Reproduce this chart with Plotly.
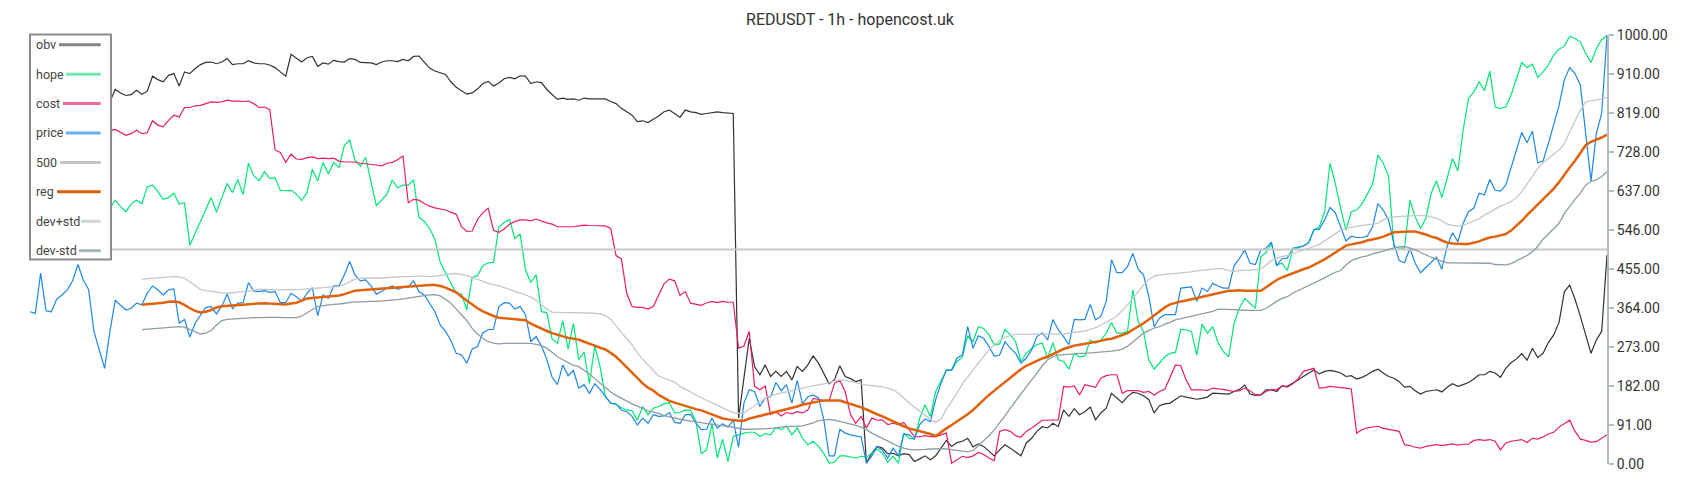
import plotly.graph_objects as go

CHART_TITLE = "REDUSDT - 1h - hopencost.uk"
SERIES_NAMES = ["obv", "hope", "cost", "price", "500", "reg", "dev+std", "dev-std"]

obv = [840, 835, 850, 845, 860, 855, 865, 850, 858, 862, 855, 848, 852, 845, 838,
       844, 873, 865, 859, 861, 871, 862, 869, 904, 896, 891, 906, 910, 881, 914, 910, 922, 931, 936, 937, 933, 937, 945, 931, 933, 933, 940, 935, 933, 933, 930, 924, 914, 904, 955, 947, 937, 947, 950, 927, 935, 932, 941,
       938, 937, 945, 943, 936, 935, 935, 931, 937, 940, 940, 938, 943, 940, 950, 951, 937, 923, 916, 912, 908, 891, 878, 870, 862, 865, 874, 887, 892, 881, 888, 898, 901, 898, 905, 904, 887, 891, 889, 873, 861, 850, 853, 850, 851, 848, 853, 851, 851, 851, 851, 845, 840, 829, 821, 813, 798, 800, 796, 803, 811,
       821, 825, 817, 808, 825, 821, 819, 815, 817, 819, 821, 819, 818, 817, 107, 204, 293, 227, 208, 231, 204, 216, 204, 216, 196, 227, 216, 231, 252, 235, 212, 187, 196, 229, 204, 199, 192, 196, 2, 25, 41, 37, 24, 25, 19, 24, 22, 6, 12, 19, 10, 19, 37, 55, 41, 50, 53, 60, 40,
       47, 41, 29, 19, 33, 45, 37, 29, 19, 49, 60, 76, 87, 84, 95, 87, 126, 111, 129, 115, 122, 133, 103, 119, 130, 165, 153, 143, 157, 167, 165, 159, 150, 119, 136, 140, 142, 151, 159, 156, 153, 151, 153, 156, 165, 164, 164, 163, 169, 174, 184, 163, 160, 161, 173, 173, 169, 182,
       181, 188, 196, 204, 212, 219, 210, 216, 218, 216, 212, 204, 206, 198, 202, 208, 216, 221, 212, 204, 200, 192, 179, 181, 171, 163, 169, 171, 173, 168, 179, 187, 181, 185, 190, 198, 208, 208, 216, 212, 202, 223, 236, 245, 257, 242, 270, 248, 258, 283, 301, 330, 402, 417, 384, 344, 301, 258, 289, 309, 487]

hope = [600, 610, 595, 620, 640, 625, 605, 590, 615, 630, 645, 620, 600, 585, 590,
        596, 615, 600, 588, 607, 615, 607, 646, 650, 635, 617, 621, 631, 606, 609, 510, 538, 565, 594, 621, 587, 619, 654, 633, 663, 628, 701, 672, 660, 681, 666, 667, 638, 637, 638, 629, 614, 633, 687, 660, 703, 676, 703, 691,
        743, 755, 708, 694, 715, 658, 602, 615, 629, 662, 644, 650, 650, 662, 575, 566, 549, 524, 470, 445, 421, 398, 396, 359, 435, 439, 462, 469, 470, 552, 563, 570, 526, 536, 452, 423, 441, 355, 353, 291, 282, 334, 268, 328, 243, 261, 188, 275, 227, 157, 142, 139, 131, 126, 124, 102, 134, 115, 130, 134,
        140, 143, 119, 120, 126, 125, 99, 24, 33, 94, 14, 58, 6, 64, 68, 72, 74, 74, 64, 71, 68, 85, 80, 89, 68, 84, 60, 45, 53, 41, 25, 2, 4, 19, 19, 16, 14, 18, 16, 25, 35, 25, 4, 18, 2, 72, 60, 58, 107, 138, 111, 169, 196, 219, 219, 239, 249, 299, 285,
        320, 316, 301, 278, 280, 314, 301, 285, 239, 258, 270, 278, 282, 247, 283, 243, 239, 221, 258, 250, 252, 289, 282, 289, 305, 330, 305, 305, 309, 406, 332, 309, 243, 221, 235, 250, 258, 260, 314, 313, 309, 254, 326, 305, 320, 282, 262, 250, 328, 363, 386, 375, 363, 483, 493, 514, 464, 468,
        451, 499, 503, 508, 516, 545, 553, 588, 701, 654, 596, 545, 588, 592, 606, 629, 652, 720, 701, 671, 507, 503, 503, 615, 576, 549, 573, 631, 660, 621, 670, 712, 683, 778, 852, 867, 891, 870, 916, 832, 829, 832, 860, 898, 936, 924, 932, 901, 914, 930, 953, 967, 974, 997, 992, 984, 957, 936, 968, 989, 998]

cost = [760, 770, 765, 775, 768, 772, 780, 776, 770, 765, 772, 778, 774, 770, 772,
        777, 780, 772, 766, 770, 778, 770, 772, 800, 790, 786, 801, 813, 809, 831, 831, 835, 836, 840, 844, 843, 844, 848, 846, 846, 845, 846, 840, 831, 832, 826, 732, 726, 703, 722, 711, 710, 714, 716, 712, 713, 712, 713,
        706, 704, 704, 704, 701, 700, 698, 697, 695, 701, 703, 709, 718, 609, 617, 615, 607, 601, 597, 594, 592, 587, 582, 553, 542, 543, 570, 586, 596, 545, 540, 548, 559, 565, 569, 569, 567, 571, 566, 562, 559, 553, 553, 553, 553, 555, 557, 556, 556, 556, 555, 549, 486, 478, 398, 367, 365, 365, 361, 367, 394,
        420, 431, 427, 393, 402, 375, 373, 370, 376, 379, 376, 379, 377, 377, 270, 275, 309, 181, 173, 182, 115, 122, 112, 120, 117, 122, 119, 126, 153, 151, 148, 148, 188, 195, 169, 115, 95, 111, 84, 107, 102, 103, 92, 95, 92, 97, 80, 64, 63, 66, 64, 64, 68, 72, 2, 10, 18, 15, 19,
        27, 22, 14, 8, 76, 80, 76, 66, 63, 76, 84, 92, 102, 102, 102, 103, 181, 179, 182, 161, 185, 182, 179, 200, 206, 208, 208, 165, 171, 171, 171, 167, 169, 161, 169, 174, 204, 231, 229, 196, 173, 173, 173, 171, 177, 175, 174, 171, 169, 171, 177, 171, 161, 161, 169, 174, 173, 182,
        179, 187, 198, 216, 219, 223, 177, 178, 181, 179, 178, 177, 175, 72, 80, 84, 86, 88, 83, 81, 78, 76, 45, 43, 39, 37, 41, 43, 45, 43, 45, 47, 44, 46, 46, 55, 57, 55, 57, 53, 33, 49, 53, 55, 57, 50, 60, 58, 63, 70, 74, 86, 95, 102, 76, 58, 55, 51, 52, 60, 68]

price = [355, 351, 445, 357, 355, 384, 394, 406, 427, 465, 429, 407, 309, 266, 223, 309, 382, 370, 359, 363, 375, 371,
         398, 415, 406, 394, 406, 408, 328, 337, 296, 328, 347, 365, 367, 350, 368, 396, 362, 375, 376, 423, 403, 402, 404, 400, 402, 376, 376, 398, 390, 379, 398, 411, 346, 394, 386, 415,
         415, 441, 472, 441, 427, 429, 415, 396, 402, 410, 415, 407, 412, 413, 427, 402, 394, 376, 355, 324, 309, 288, 258, 254, 235, 268, 274, 306, 313, 314, 367, 376, 375, 361, 367, 348, 285, 297, 275, 244, 202, 185, 231, 206, 218, 177, 185, 165, 187, 174, 157, 142, 140, 126, 122, 111, 91, 107, 95, 115, 111,
         112, 120, 97, 95, 115, 115, 95, 80, 81, 107, 84, 94, 86, 102, 39, 142, 173, 169, 134, 154, 157, 190, 171, 185, 142, 195, 140, 157, 161, 154, 103, 19, 19, 81, 72, 68, 66, 63, 2, 18, 41, 32, 14, 37, 19, 70, 68, 58, 92, 105, 99, 150, 188, 219, 219, 247, 254, 320, 270,
         299, 293, 274, 251, 254, 285, 270, 258, 235, 247, 266, 297, 306, 289, 337, 313, 297, 278, 337, 336, 337, 372, 336, 344, 379, 476, 446, 446, 460, 491, 454, 441, 390, 320, 340, 348, 348, 348, 410, 412, 413, 379, 410, 402, 421, 415, 410, 410, 462, 479, 499, 468, 465, 499, 503, 517, 462, 479, 480,
         503, 505, 508, 516, 547, 547, 569, 598, 586, 553, 520, 531, 528, 528, 531, 553, 607, 592, 569, 514, 474, 469, 503, 468, 446, 458, 469, 482, 454, 508, 539, 518, 561, 588, 596, 631, 627, 663, 638, 636, 650, 693, 736, 773, 749, 776, 702, 706, 747, 790, 836, 896, 924, 910, 883, 770, 660, 770, 817, 1000]

level_500 = 500
band_start = 21

reg = [371, 372, 374, 375, 376, 378, 379, 377, 371, 363, 357, 353, 355, 359, 365, 368, 369, 370, 370, 371, 372, 373, 374, 375, 374, 373, 372, 372, 374, 376, 381, 386, 387, 388, 389, 390, 392, 393, 396,
       400, 404, 405, 406, 407, 408, 408, 409, 410, 411, 412, 413, 414, 415, 416, 417, 417, 415, 411, 405, 400, 390, 381, 371, 363, 356, 350, 345, 341, 340, 339, 338, 337, 335, 327, 321, 315, 310, 305, 301, 298, 294, 292, 290, 285, 281, 276, 271, 267, 259, 250, 238, 225, 213, 200, 188, 178, 171, 161,
       153, 147, 143, 139, 135, 131, 128, 125, 120, 115, 110, 106, 104, 102, 101, 101, 106, 109, 112, 115, 118, 121, 125, 128, 131, 134, 138, 141, 144, 146, 148, 148, 148, 148, 144, 140, 137, 132, 127, 121, 116, 111, 105, 99, 93, 88, 83, 80, 77, 74, 70, 65,
       75, 83, 91, 99, 106, 116, 126,
       138, 150, 161, 171, 181, 192, 202, 212, 221, 229, 235, 240, 246, 250, 256, 261, 268, 272, 276, 278, 280, 282, 284, 287, 290, 292, 296, 300, 305, 313, 320, 328, 337, 347, 357, 365, 372, 376, 379, 381, 384, 386, 390, 393, 396, 399, 401, 404, 404, 405, 404, 404, 404, 404, 412, 421, 429, 435,
       440, 445, 449, 454, 458, 464, 470, 477, 485, 493, 500, 509, 512, 514, 517, 521, 523, 526, 530, 535, 540, 541, 542, 542, 542, 539, 535, 530, 527, 521, 516, 514, 513, 513, 513, 516, 519, 524, 528, 530, 533, 536, 544, 555, 567, 580, 592, 604, 617, 629, 642, 657, 675, 691, 707, 725, 743, 751, 756, 761, 768]

dev_plus_std = [431, 432, 433, 433, 434, 436, 437, 436, 433, 425, 415, 407, 404, 402, 401, 399, 398, 399, 400, 402, 403, 405, 407, 407, 406, 406, 406, 406, 407, 407, 407, 408, 409, 410, 410, 412, 413, 414, 418,
                425, 431, 433, 434, 434, 433, 434, 435, 435, 436, 437, 437, 438, 438, 438, 437, 438, 440, 441, 443, 444, 442, 439, 435, 430, 425, 421, 418, 416, 411, 407, 402, 398, 394, 389, 382, 371, 361, 354, 353, 353, 353, 353, 353, 352, 352, 351, 350, 346, 337, 322, 306, 292, 278, 259, 244, 230, 218, 205,
                200, 195, 191, 181, 174, 168, 161, 154, 148, 143, 137, 130, 125, 120, 118, 119, 128, 137, 146, 153, 159, 163, 166, 168, 171, 175, 178, 180, 182, 184, 186, 189, 193, 196, 195, 193, 190, 187, 184, 183, 182, 180, 177, 173, 165, 153, 143, 132, 122, 112, 104, 97, 105, 128, 146, 165, 186, 204, 219,
                235, 250, 266, 278, 288, 295, 300, 302, 302, 302, 302, 302, 302, 302, 302, 302, 303, 305, 307, 308, 310, 314, 318, 324, 330, 337, 345, 357, 371, 386, 402, 417, 430, 438, 441, 442, 444, 445, 445, 447, 448, 450, 451, 452, 454, 456, 455, 451, 449, 451, 451, 452, 453, 454, 464, 474, 480, 484,
                486, 490, 495, 499, 502, 507, 512, 520, 528, 538, 545, 549, 552, 554, 556, 558, 559, 561, 569, 575, 576, 577, 578, 579, 579, 579, 579, 576, 573, 567, 559, 556, 555, 556, 561, 566, 572, 580, 587, 596, 601, 606, 612, 621, 635, 653, 670, 689, 702, 711, 722, 732, 747, 774, 798, 825, 844, 846, 848, 851, 854]

dev_minus_std = [313, 314, 315, 316, 317, 319, 320, 320, 319, 314, 308, 303, 305, 311, 324, 334, 337, 338, 339, 340, 340, 341, 341, 342, 342, 342, 341, 341, 341, 341, 345, 353, 361, 367, 369, 371, 372, 373, 375,
                 377, 378, 378, 379, 379, 379, 380, 380, 381, 383, 385, 387, 388, 390, 392, 394, 395, 392, 384, 375, 361, 348, 334, 316, 303, 293, 285, 282, 280, 281, 281, 281, 282, 282, 281, 279, 276, 270, 260, 250, 243, 237, 230, 227, 219, 210, 199, 188, 178, 168, 160, 153, 147, 140, 135, 130, 124, 121, 118,
                 113, 110, 108, 105, 102, 100, 98, 96, 95, 93, 91, 89, 88, 86, 83, 81, 81, 81, 82, 82, 83, 85, 86, 87, 87, 88, 89, 92, 96, 101, 103, 104, 102, 99, 97, 94, 90, 86, 80, 72, 66, 60, 53, 47, 41, 37, 34, 33, 33, 34, 35, 36, 36, 35, 34, 32, 30, 29, 31,
                 43, 53, 66, 80, 95, 112, 130, 147, 164, 179, 196, 212, 229, 243, 250, 254, 255, 257, 257, 258, 258, 259, 259, 260, 262, 263, 265, 268, 274, 284, 296, 305, 311, 317, 320, 326, 330, 336, 339, 342, 345, 347, 350, 353, 356, 361, 361, 361, 360, 359, 358, 358, 358, 358, 363, 372, 379, 386,
                 390, 398, 404, 410, 415, 421, 427, 434, 441, 447, 451, 464, 474, 479, 483, 485, 490, 493, 497, 500, 504, 506, 507, 503, 499, 493, 487, 482, 477, 473, 469, 469, 469, 469, 469, 469, 469, 469, 468, 465, 464, 464, 467, 473, 480, 486, 495, 507, 524, 537, 548, 561, 584, 602, 617, 632, 650, 659, 662, 670, 681]

y_tick_values = [0, 91, 182, 273, 364, 455, 546, 637, 728, 819, 910, 1000]
y_tick_labels = ["0.00", "91.00", "182.00", "273.00", "364.00", "455.00", "546.00",
                 "637.00", "728.00", "819.00", "910.00", "1000.00"]

# ---------------- layout geometry ----------------
# The page body has an 8px margin, so the figure is made 16px smaller than the
# window and all page positions below are offset by that margin.
PAGE_OFF = 8
W, H = 1700 - 2 * PAGE_OFF, 500 - 2 * PAGE_OFF
PLOT_L, PLOT_R, PLOT_T, PLOT_B = 30, 1607, 35, 464          # page pixels
M_L = PLOT_L - PAGE_OFF
M_T = PLOT_T - PAGE_OFF
M_R = W - (PLOT_R - PAGE_OFF)
M_B = H - (PLOT_B - PAGE_OFF)
PW = W - M_L - M_R
PH = H - M_T - M_B


def px_x(px):
    return (px - PLOT_L) / PW


def px_y(py):
    return (PLOT_B - py) / PH


n = len(price)
x_all = list(range(n))
x_band = list(range(band_start, band_start + len(reg)))

series_data = {
    "obv": (x_all, obv),
    "hope": (x_all, hope),
    "cost": (x_all, cost),
    "price": (x_all, price),
    "500": (x_all, [level_500] * n),
    "reg": (x_band, reg),
    "dev+std": (x_band, dev_plus_std),
    "dev-std": (x_band, dev_minus_std),
}

styles = {
    "obv": dict(color="#333333", width=1.2),
    "hope": dict(color="#00e676", width=1.2),
    "cost": dict(color="#e91e63", width=1.2),
    "price": dict(color="#1e88e5", width=1.2),
    "500": dict(color="#c8c8c8", width=1.8),
    "reg": dict(color="#e0620d", width=2.5),
    "dev+std": dict(color="#c2c8cc", width=1.3),
    "dev-std": dict(color="#8e9ca5", width=1.3),
}

legend_colors = {
    "obv": "#858585", "hope": "#72eab0", "cost": "#f06a9a", "price": "#6ab0ee",
    "500": "#c4c4c4", "reg": "#d9600a", "dev+std": "#cfd4d8", "dev-std": "#a8b3ba",
}
legend_text_w = {"obv": 19, "hope": 26, "cost": 23, "price": 26, "500": 20,
                 "reg": 17, "dev+std": 41, "dev-std": 39}

fig = go.Figure()
for name in SERIES_NAMES:
    xs, ys = series_data[name]
    fig.add_trace(go.Scatter(x=xs, y=ys, mode="lines", name=name,
                             line=styles[name], showlegend=False, hoverinfo="skip"))

# custom legend box (text left, swatch right)
LEG_L, LEG_R, LEG_T, LEG_B = 30, 111, 34.5, 259.5
shapes = [dict(type="rect", xref="paper", yref="paper",
               x0=px_x(LEG_L), x1=px_x(LEG_R), y0=px_y(LEG_B), y1=px_y(LEG_T),
               line=dict(color="#8c8c8c", width=2), fillcolor="white", layer="above")]
annotations = []
row0, step = 44.7, 29.43
for k, name in enumerate(SERIES_NAMES):
    py = row0 + k * step
    annotations.append(dict(text=name, xref="paper", yref="paper", x=px_x(34), y=px_y(py),
                            xanchor="left", yanchor="middle", showarrow=False,
                            font=dict(family="Roboto", size=12.5, color="#444444")))
    shapes.append(dict(type="line", xref="paper", yref="paper",
                       x0=px_x(35 + legend_text_w[name] + 5), x1=px_x(100.7),
                       y0=px_y(py), y1=px_y(py),
                       line=dict(color=legend_colors[name], width=3), layer="above"))

TITLE_X, TITLE_Y = 850, 19.5   # page pixels (centre of title)

fig.update_layout(
    template="none",
    width=W, height=H, autosize=False,
    margin=dict(l=M_L, r=M_R, t=M_T, b=M_B, pad=0),
    paper_bgcolor="white", plot_bgcolor="white",
    font=dict(family="Roboto", color="#333333"),
    title=dict(text=CHART_TITLE, x=(TITLE_X - PAGE_OFF) / W, xanchor="center", xref="container",
               y=1 - (TITLE_Y - PAGE_OFF) / H, yanchor="middle", yref="container",
               font=dict(family="Roboto", size=16, color="#333333")),
    showlegend=False,
    hovermode=False,
    xaxis=dict(visible=False, range=[0, n - 1], fixedrange=True),
    yaxis=dict(side="right", range=[0, 1000], tickmode="array",
               tickvals=y_tick_values, ticktext=y_tick_labels,
               showline=True, linecolor="#b0bec5", linewidth=2,
               ticks="outside", ticklen=5, tickwidth=1.5, tickcolor="#b0bec5",
               showgrid=False, zeroline=False, automargin=False,
               tickfont=dict(family="Roboto", size=14, color="#333333")),
    shapes=shapes,
    annotations=annotations,
)

fig.write_html("out.html")
